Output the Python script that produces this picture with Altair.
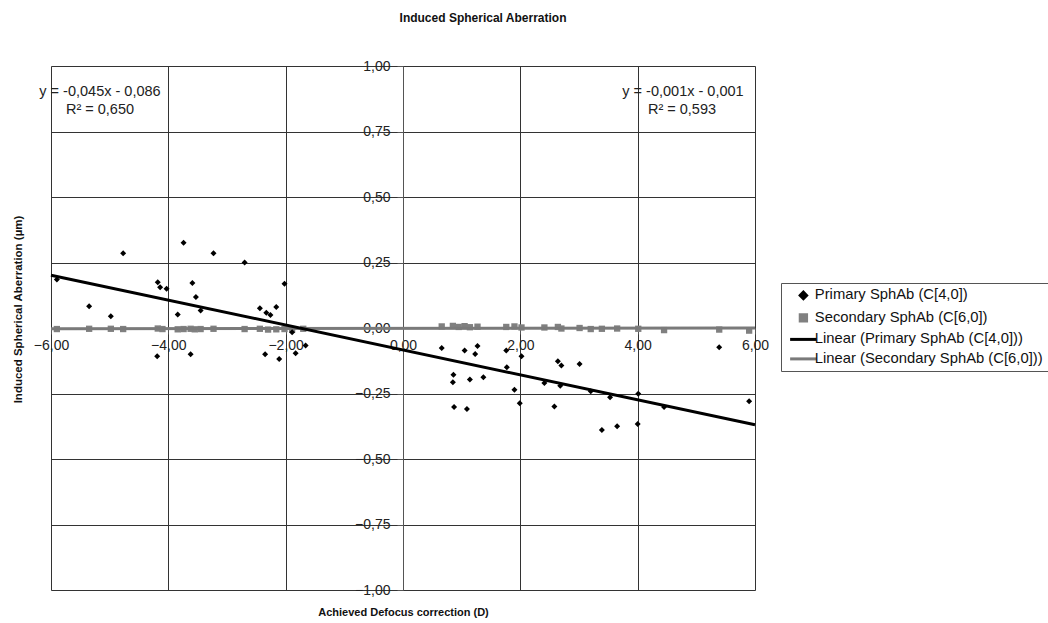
import altair as alt
import pandas as pd

# Primary spherical aberration C[4,0]
prim_x = [-5.90, -5.35, -4.98, -4.77, -4.18, -4.14, -4.03, -4.19, -3.84, -3.74,
          -3.62, -3.59, -3.53, -3.45, -3.23, -2.70, -2.44, -2.33, -2.26, -2.16,
          -2.02, -2.35, -2.11, -1.89, -1.83, -1.66,
          0.66, 1.05, 1.27, 1.23, 0.86, 0.85, 1.14, 1.37, 0.87, 1.09,
          1.76, 1.77, 2.02, 1.90, 1.99, 2.41, 2.64, 2.70, 2.68, 3.01,
          2.58, 3.20, 3.53, 3.39, 3.65, 4.01, 4.00, 4.45, 5.39, 5.90]
prim_y = [0.185, 0.083, 0.045, 0.285, 0.175, 0.156, 0.150, -0.108, 0.052, 0.325,
          -0.100, 0.172, 0.118, 0.067, 0.285, 0.250, 0.075, 0.058, 0.050, 0.080,
          0.169, -0.100, -0.118, -0.016, -0.096, -0.067,
          -0.076, -0.086, -0.069, -0.099, -0.178, -0.207, -0.197, -0.188, -0.302, -0.309,
          -0.086, -0.150, -0.108, -0.236, -0.287, -0.210, -0.127, -0.143, -0.220, -0.137,
          -0.300, -0.241, -0.264, -0.389, -0.375, -0.251, -0.366, -0.302, -0.073, -0.280]

# Secondary spherical aberration C[6,0]
sec_x = [-5.90, -5.35, -4.98, -4.77, -4.18, -4.10, -3.84, -3.74, -3.62, -3.55,
         -3.45, -3.23, -2.70, -2.44, -2.30, -2.16, -2.02, -1.89, -1.70,
         0.66, 0.85, 0.95, 1.05, 1.14, 1.27, 1.76, 1.90, 2.02, 2.41, 2.64,
         2.70, 3.01, 3.20, 3.39, 3.65, 4.01, 4.45, 5.39, 5.90]
sec_y = [-0.004, -0.003, -0.003, -0.004, -0.002, -0.004, -0.005, -0.004, -0.003, -0.005,
         -0.004, -0.003, -0.004, -0.003, -0.006, -0.005, -0.004, -0.006, -0.003,
         0.006, 0.008, 0.004, 0.007, 0.003, 0.005, 0.004, 0.006, 0.002, 0.002, 0.004,
         -0.002, 0.000, -0.004, -0.003, -0.002, -0.003, -0.008, -0.006, -0.010]

names = ["Primary SphAb (C[4,0])", "Secondary SphAb (C[6,0])",
         "Linear (Primary SphAb (C[4,0]))", "Linear (Secondary SphAb (C[6,0]))"]

x_ticks = [-6, -4, -2, 0, 2, 4, 6]
y_ticks = [-1.0, -0.75, -0.5, -0.25, 0.0, 0.25, 0.5, 0.75, 1.0]

eq_left = ["y = -0,045x - 0,086", "R\u00b2 = 0,650"]
eq_right = ["y = -0,001x - 0,001", "R\u00b2 = 0,593"]

W, H = 704, 524
FONT = "Liberation Sans"

df1 = pd.DataFrame({"x": prim_x, "y": prim_y, "series": names[0]})
df2 = pd.DataFrame({"x": sec_x, "y": sec_y, "series": names[1]})

LINE_SYMBOL = "M-4.2,0H4.2"
color_scale = alt.Scale(domain=names, range=["#000000", "#808080", "#000000", "#7a7a7a"])
shape_scale = alt.Scale(domain=names, range=["diamond", "square", LINE_SYMBOL, LINE_SYMBOL])

fmt = "replace(format(datum.value, '.2f'), '.', ',')"

x_axis = alt.Axis(values=x_ticks, labelExpr=fmt, offset=-H / 2, grid=True,
                  gridColor="#333333", domainColor="#555555", tickColor="#555555",
                  tickSize=6, labelPadding=4, labelFlush=False, labelOverlap=False,
                  labelFontSize=14, labelColor="#222222", labelFont=FONT,
                  title="Achieved Defocus correction (D)", titleFont=FONT,
                  titleFontSize=11, titleFontWeight="bold", titleColor="#111111",
                  titleX=W / 2, titleY=284, titleAlign="center", titleBaseline="middle")
y_axis = alt.Axis(values=y_ticks, labelExpr=fmt, offset=-W / 2, grid=True,
                  gridColor="#333333", domainColor="#555555", tickColor="#555555",
                  tickSize=6, labelPadding=7, labelFlush=False, labelOverlap=False,
                  labelFontSize=14, labelColor="#222222", labelFont=FONT,
                  title="Induced Spherical Aberration (\u00b5m)", titleFont=FONT,
                  titleFontSize=11.5, titleFontWeight="bold", titleColor="#111111",
                  titleX=-33 - W / 2, titleY=243, titleAlign="center",
                  titleBaseline="middle", titleAngle=270)

X = alt.X("x:Q", scale=alt.Scale(domain=[-6, 6], nice=False, zero=False), axis=x_axis)
Y = alt.Y("y:Q", scale=alt.Scale(domain=[-1, 1], nice=False, zero=False), axis=y_axis)
legend = alt.Legend(title=None, orient="none", legendX=730, legendY=217,
                    strokeColor="#555555", padding=5, labelFont=FONT,
                    labelFontSize=14.8, labelColor="#111111", symbolStrokeWidth=3,
                    symbolSize=40, rowPadding=3.5, labelOffset=4, labelLimit=400,
                    symbolOffset=10)
C = alt.Color("series:N", scale=color_scale, legend=legend)
S = alt.Shape("series:N", scale=shape_scale, legend=legend)

fit1 = alt.Chart(df1).transform_regression("x", "y", extent=[-6, 6]).transform_calculate(
    series=f"'{names[2]}'").mark_line(strokeWidth=3).encode(x=X, y=Y, color=C)
fit2 = alt.Chart(df2).transform_regression("x", "y", extent=[-6, 6]).transform_calculate(
    series=f"'{names[3]}'").mark_line(strokeWidth=3).encode(x=X, y=Y, color=C)

pts2 = alt.Chart(df2).mark_point(filled=True, opacity=1, size=40).encode(
    x=X, y=Y, color=C, shape=S)
pts1 = alt.Chart(df1).mark_point(filled=True, opacity=1, size=36).encode(
    x=X, y=Y, color=C, shape=S)


def label(text, px, py):
    return alt.Chart(pd.DataFrame({"t": [text]})).mark_text(
        font=FONT, fontSize=14.5, color="#222222", align="center", baseline="middle"
    ).encode(text="t:N", x=alt.value(px), y=alt.value(py))


texts = [label(eq_left[0], 49, 26), label(eq_left[1], 49, 44),
         label(eq_right[0], 632, 26), label(eq_right[1], 631, 44)]

chart = alt.layer(pts2, fit2, fit1, pts1, *texts).properties(
    width=W, height=H,
    title=alt.TitleParams("Induced Spherical Aberration", font=FONT, fontSize=12,
                          fontWeight="bold", color="#111111", dx=80, offset=34),
    autosize=alt.AutoSizeParams(type="none"),
    padding={"left": 51, "top": 66, "right": 293, "bottom": 33},
).configure_view(stroke="#999999", strokeWidth=1).configure(background="white")

chart.save("out.html", embed_options={"renderer": "svg", "actions": False})
